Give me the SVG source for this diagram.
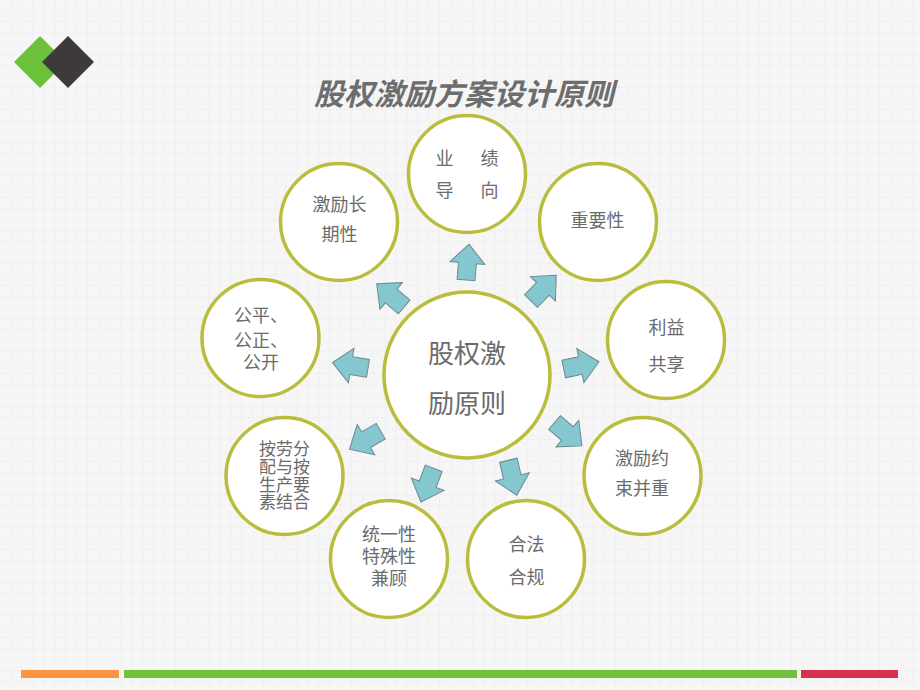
<svg xmlns="http://www.w3.org/2000/svg" width="920" height="690" viewBox="0 0 920 690">
  <defs>
    <pattern id="grid" width="22" height="22" patternUnits="userSpaceOnUse">
      <rect width="22" height="22" fill="#f6f6f6"/>
      <path d="M22 0V22M0 22H22" stroke="#ebebeb" stroke-width="1" fill="none"/>
      <path d="M11 0V22M0 11H22" stroke="#f0f0f0" stroke-width="1" fill="none"/>
    </pattern>
    <path id="arr" d="M0,-9 L17,-9 L17,-17.5 L36,0 L17,17.5 L17,9 L0,9 Z"/>
    <style>
      .c { fill: #ffffff; stroke: #b9bd3b; stroke-width: 3.5; }
      .t { font-family: "Noto Sans CJK SC", "Noto Sans", sans-serif; font-size: 18px; fill: #6b6b6b; text-anchor: middle; dominant-baseline: central; }
      .big { font-size: 26px; }
      .sm { font-size: 17px; }
      .a use { fill: #84c7cf; stroke: #6e8a90; stroke-width: 1; }
    </style>
  </defs>
  <rect width="920" height="690" fill="url(#grid)"/>

  <g id="logo">
    <polygon points="40,36 66,62 40,88 14,62" fill="#6cc03a"/>
    <polygon points="68,36 94,62 68,88 42,62" fill="#3e3a3b"/>
  </g>

  <text id="title" x="464" y="92" font-family="Noto Sans CJK SC, sans-serif" font-size="30" font-style="italic" font-weight="bold" fill="#6d6d6d" text-anchor="middle" dominant-baseline="central">股权激励方案设计原则</text>

  <g id="connectors" class="a">
    <use href="#arr" transform="translate(466,280) rotate(-85.2)"/>
    <use href="#arr" transform="translate(531,301) rotate(-45.4)"/>
    <use href="#arr" transform="translate(563.7,369) rotate(-11.7)"/>
    <use href="#arr" transform="translate(554.5,422.5) rotate(40.5)"/>
    <use href="#arr" transform="translate(508.3,460.3) rotate(76.4)"/>
    <use href="#arr" transform="translate(433.7,468.3) rotate(110.7)"/>
    <use href="#arr" transform="translate(380.7,431.2) rotate(150.1)"/>
    <use href="#arr" transform="translate(368,368.3) rotate(189.2)"/>
    <use href="#arr" transform="translate(404.2,307) rotate(220.2)"/>
  </g>

  <g id="center">
    <circle class="c" cx="467" cy="375" r="83"/>
    <text class="t big" x="467" y="351">股权激</text>
    <text class="t big" x="467" y="401">励原则</text>
  </g>

  <g id="n-yeji">
    <circle class="c" cx="467" cy="174" r="58.5"/>
    <text class="t" x="444.5" y="157">业</text>
    <text class="t" x="489.5" y="157">绩</text>
    <text class="t" x="444.5" y="189">导</text>
    <text class="t" x="489.5" y="189">向</text>
  </g>

  <g id="n-changqi">
    <circle class="c" cx="339" cy="222" r="58.5"/>
    <text class="t" x="339.5" y="203">激励长</text>
    <text class="t" x="339.5" y="233">期性</text>
  </g>

  <g id="n-zhongyao">
    <circle class="c" cx="598" cy="222" r="58.5"/>
    <text class="t" x="597.5" y="219">重要性</text>
  </g>

  <g id="n-gongping">
    <circle class="c" cx="260.5" cy="338" r="58.5"/>
    <text class="t" x="261" y="314">公平、</text>
    <text class="t" x="261" y="339">公正、</text>
    <text class="t" x="261" y="361">公开</text>
  </g>

  <g id="n-liyi">
    <circle class="c" cx="666" cy="340" r="58.5"/>
    <text class="t" x="666.5" y="326">利益</text>
    <text class="t" x="666.5" y="363">共享</text>
  </g>

  <g id="n-yueshu">
    <circle class="c" cx="642.5" cy="476" r="58.5"/>
    <text class="t" x="642" y="457">激励约</text>
    <text class="t" x="642" y="487">束并重</text>
  </g>

  <g id="n-anlao">
    <circle class="c" cx="284.5" cy="476" r="58.5"/>
    <text class="t sm" x="284.5" y="447.5">按劳分<tspan x="284.5" dy="17.5">配与按</tspan><tspan x="284.5" dy="17.5">生产要</tspan><tspan x="284.5" dy="17.5">素结合</tspan></text>
  </g>

  <g id="n-tongyi">
    <circle class="c" cx="389" cy="559" r="58.5"/>
    <text class="t" x="389" y="533">统一性</text>
    <text class="t" x="389" y="555">特殊性</text>
    <text class="t" x="389" y="577">兼顾</text>
  </g>

  <g id="n-hefa">
    <circle class="c" cx="526" cy="559" r="58.5"/>
    <text class="t" x="526.5" y="543">合法</text>
    <text class="t" x="526.5" y="576">合规</text>
  </g>

  <g id="footer">
    <rect x="21" y="670" width="98" height="8" fill="#fd943f"/>
    <rect x="124" y="670" width="673" height="8" fill="#6fc23a"/>
    <rect x="801" y="670" width="97" height="8" fill="#d63153"/>
  </g>
</svg>
